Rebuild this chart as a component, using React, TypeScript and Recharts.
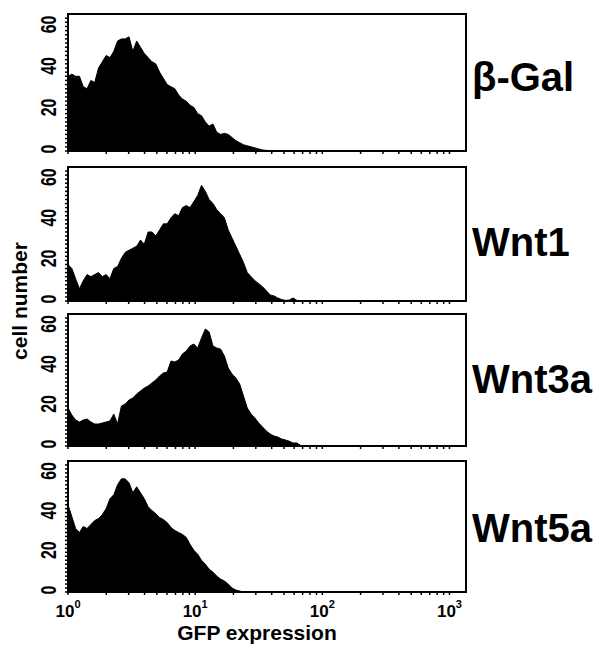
import React from "react";
import { AreaChart, Area, XAxis, YAxis, ReferenceArea } from "recharts";

const FONT = '"Liberation Sans", Arial, Helvetica, sans-serif';

// histogram channels, in decades of GFP (10^0 .. 10^1.89)
const bins = [
  0, 0.03, 0.06, 0.09, 0.12, 0.15, 0.18, 0.21, 0.24, 0.27,
  0.3, 0.33, 0.36, 0.39, 0.42, 0.45, 0.48, 0.51, 0.54, 0.57,
  0.6, 0.63, 0.66, 0.69, 0.72, 0.75, 0.78, 0.81, 0.84, 0.87,
  0.9, 0.93, 0.96, 0.99, 1.02, 1.05, 1.08, 1.11, 1.14, 1.17,
  1.2, 1.23, 1.26, 1.29, 1.32, 1.35, 1.38, 1.41, 1.44, 1.47,
  1.5, 1.53, 1.56, 1.59, 1.62, 1.65, 1.68, 1.71, 1.74, 1.77,
  1.8, 1.83, 1.86, 1.89,
];

const betaGal = [
  36, 37, 36, 36, 31, 30, 34, 33, 40, 43,
  46, 45, 48, 53, 54, 54, 55, 48, 53, 50,
  47, 45, 43, 42, 38, 35, 32, 31, 30, 27,
  25, 24, 22, 21, 18, 17, 14, 12, 13, 9,
  8, 8.5, 8, 6.5, 5, 4, 3, 2.5, 2, 1.5,
  1, 0.5, 0.3, 0, 0, 0, 0, 0, 0, 0,
  0, 0, 0, 0,
];

const wnt1 = [
  18, 16, 11, 6, 10, 13, 12, 13, 14, 12,
  13, 11, 16, 17, 21, 24, 25, 26, 27, 30,
  28, 34, 34, 32, 35, 38, 38, 41, 43, 42,
  46, 47, 46, 49, 52, 57, 54, 50, 48, 45,
  43, 41, 35, 31, 27, 23, 19, 14, 12, 10,
  8.5, 7, 5, 3, 2.5, 1.5, 0.7, 0.3, 0.5, 1.5,
  0.3, 0, 0, 0,
];

const wnt3a = [
  19, 15.5, 13, 12, 13, 13.5, 12, 11, 11, 11.5,
  12, 12.5, 16, 11, 20, 21, 23, 24, 26, 27.5,
  29, 30, 31.5, 33, 35, 36.5, 37, 42.5, 42, 43,
  46, 47.5, 50, 51, 49, 54, 58.5, 57, 50, 49,
  48.5, 45, 39, 36, 34, 31, 25, 19, 16, 14,
  11.5, 9.5, 7.5, 6, 5, 4.5, 3.5, 3, 2.4, 1.5,
  1.5, 0.3, 0, 0,
];

const wnt5a = [
  44, 38, 32, 30, 33, 32, 34, 36, 37, 39,
  42, 47, 49, 54, 57, 57, 55, 50, 53, 50,
  47, 43, 41, 39.5, 37.5, 36.5, 35, 32.5, 31, 30,
  29, 27.5, 24, 21, 19, 16, 14, 11.5, 10, 8,
  6.5, 5.5, 4, 2, 1, 0.5, 0, 0, 0, 0,
  0, 0, 0, 0, 0, 0, 0, 0, 0, 0,
  0, 0, 0, 0,
];

const panelSeries = [betaGal, wnt1, wnt3a, wnt5a];
const panelLabels = ["β-Gal", "Wnt1", "Wnt3a", "Wnt5a"];
const panelTops = [14, 167, 314, 461];
const panelHeights = [137, 134, 132, 131];
const labelCenters = [76, 241, 378, 527];

const X_MAX = 3.13;
const Y_MIN = 0;
const Y_MAX = 66;
const yTicks = Array.from({ length: 33 }, (_, i) => i * 2);
const xTicks = [0, 1, 2, 3]
  .flatMap((d) => [1, 2, 3, 4, 5, 6, 7, 8, 9].map((k) => d + Math.log10(k)))
  .filter((t) => t <= X_MAX);

const YTick = (props: any) => {
  const { x, y, payload } = props;
  if (payload.value % 20 !== 0) return null;
  return (
    <text
      transform={`translate(${x - 14},${y - 2}) rotate(-90) scale(0.72,1)`}
      textAnchor="middle"
      dominantBaseline="central"
      fontSize={22}
      fontWeight="bold"
      fontFamily={FONT}
      fill="#000"
    >
      {payload.value}
    </text>
  );
};

const XTick = (props: any) => {
  const { x, y, payload, show } = props;
  const v = payload.value;
  const r = Math.round(v);
  if (!show || Math.abs(v - r) > 1e-9) return null;
  return (
    <text x={x} y={y} dy="0.71em" textAnchor="middle" fontSize={17} fontWeight="bold" fontFamily={FONT} fill="#000">
      10
      <tspan dy={-9} fontSize={11}>
        {r}
      </tspan>
    </text>
  );
};

const Panel = ({ index }: { index: number }) => {
  const isLast = index === panelSeries.length - 1;
  const axisH = isLast ? 52 : 6;
  const h = panelHeights[index];
  const data = bins.map((b, i) => ({ gfp: b, count: panelSeries[index][i] }));
  return (
    <div style={{ position: "absolute", left: 0, top: panelTops[index] - 2 }}>
      <AreaChart width={470} height={2 + h + axisH} data={data} margin={{ top: 2, right: 4, bottom: 0, left: 0 }}>
        <XAxis
          dataKey="gfp"
          type="number"
          domain={[0, X_MAX]}
          ticks={xTicks}
          interval={0}
          allowDataOverflow
          axisLine={false}
          tickSize={3}
          tickMargin={10}
          tickLine={{ stroke: "#000", strokeWidth: 1.5 }}
          tick={<XTick show={isLast} />}
          height={axisH}
          label={
            isLast
              ? {
                  value: "GFP expression",
                  position: "insideBottom",
                  offset: 4,
                  dx: -10,
                  fontSize: 21,
                  fontWeight: "bold",
                  fontFamily: FONT,
                  fill: "#000",
                }
              : undefined
          }
        />
        <YAxis
          type="number"
          domain={[Y_MIN, Y_MAX]}
          ticks={yTicks}
          interval={0}
          allowDataOverflow
          width={68}
          axisLine={false}
          tickSize={3}
          tickMargin={2}
          tickLine={{ stroke: "#000", strokeWidth: 1.5 }}
          tick={<YTick />}
        />
        <Area
          type="linear"
          dataKey="count"
          stroke="#000"
          strokeWidth={1}
          fill="#000"
          fillOpacity={1}
          baseValue={Y_MIN}
          dot={false}
          activeDot={false}
          isAnimationActive={false}
        />
        <ReferenceArea
          x1={0}
          x2={X_MAX}
          y1={Y_MIN}
          y2={Y_MAX}
          fill="none"
          stroke="#000"
          strokeWidth={2}
          ifOverflow="visible"
        />
      </AreaChart>
    </div>
  );
};

export default function App() {
  return (
    <div
      style={{
        position: "absolute",
        left: 0,
        top: 0,
        width: 599,
        height: 649,
        background: "#fff",
        fontFamily: FONT,
        overflow: "hidden",
      }}
    >
      {panelSeries.map((_, i) => (
        <Panel key={i} index={i} />
      ))}
      {panelLabels.map((name, i) => (
        <div
          key={name}
          style={{
            position: "absolute",
            left: 472,
            top: labelCenters[i] - 19,
            fontSize: 40,
            lineHeight: "40px",
            fontWeight: "bold",
            whiteSpace: "nowrap",
            color: "#000",
          }}
        >
          {name}
        </div>
      ))}
      <div
        style={{
          position: "absolute",
          left: 20 - 80,
          top: 301 - 12,
          width: 160,
          height: 24,
          lineHeight: "24px",
          textAlign: "center",
          transform: "rotate(-90deg)",
          fontSize: 21,
          fontWeight: "bold",
          color: "#000",
        }}
      >
        cell number
      </div>
    </div>
  );
}
